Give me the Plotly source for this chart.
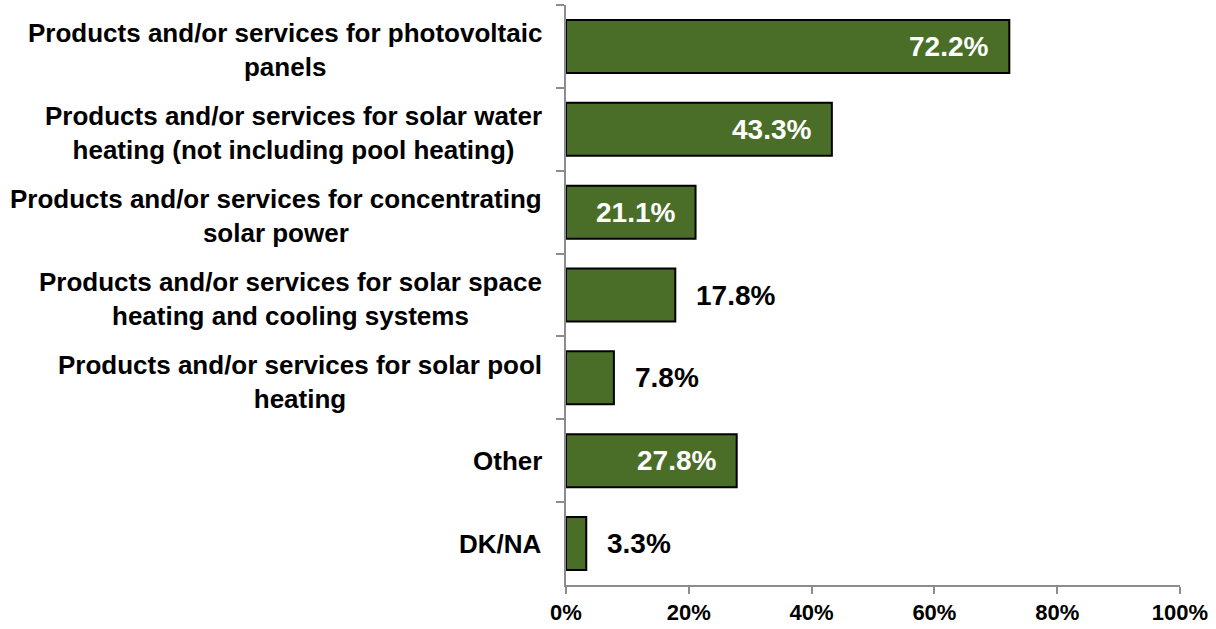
import plotly.graph_objects as go

categories = [
    "Products and/or services for photovoltaic panels",
    "Products and/or services for solar water heating (not including pool heating)",
    "Products and/or services for concentrating solar power",
    "Products and/or services for solar space heating and cooling systems",
    "Products and/or services for solar pool heating",
    "Other",
    "DK/NA",
]
category_labels = [
    "Products and/or services for photovoltaic<br>panels",
    "Products and/or services for solar water<br>heating (not including pool heating)",
    "Products and/or services for concentrating<br>solar power",
    "Products and/or services for solar space<br>heating and cooling systems",
    "Products and/or services for solar pool<br>heating",
    "Other",
    "DK/NA",
]
values = [0.722, 0.433, 0.211, 0.178, 0.078, 0.278, 0.033]
x_tickvals = [0, 0.2, 0.4, 0.6, 0.8, 1.0]
x_ticktext = ["0%", "20%", "40%", "60%", "80%", "100%"]

FONT = "Liberation Sans, Arial, sans-serif"
GREEN = "#4A6E27"
AXIS = "#8C8C8C"

fig = go.Figure()
fig.add_trace(go.Bar(
    x=values, y=categories, orientation="h",
    marker=dict(color=GREEN, line=dict(color="black", width=2)),
    width=0.64, hoverinfo="x+y",
))

annotations = []
for cat, lab in zip(categories, category_labels):
    multi = "<br>" in lab
    annotations.append(dict(
        x=0, xref="paper", y=cat, yref="y", text="<b>" + lab + "</b>",
        xanchor="right", yanchor="middle", align="center", xshift=-22,
        yshift=-4 if multi else 0,
        showarrow=False, font=dict(family=FONT, size=26, color="black"),
    ))
for cat, v in zip(categories, values):
    inside = v >= 0.2
    annotations.append(dict(
        x=v, xref="x", y=cat, yref="y", text="<b>%.1f%%</b>" % (v * 100),
        xanchor="right" if inside else "left", yanchor="middle",
        xshift=-19 if inside else 19, showarrow=False,
        font=dict(family=FONT, size=28, color="white" if inside else "black"),
    ))

fig.update_layout(
    width=1216, height=629,
    margin=dict(l=566, r=36, t=5, b=44),
    paper_bgcolor="white", plot_bgcolor="white",
    showlegend=False, annotations=annotations,
    xaxis=dict(
        range=[0, 1], tickvals=x_tickvals,
        ticktext=["<b>" + t + "</b>" for t in x_ticktext],
        showgrid=False, zeroline=False, showline=True, linecolor=AXIS, linewidth=2,
        ticks="outside", ticklen=7, tickcolor=AXIS, tickwidth=2,
        tickfont=dict(family=FONT, size=22, color="black"),
    ),
    yaxis=dict(
        autorange="reversed", showticklabels=False, showgrid=False, zeroline=False,
        showline=True, linecolor=AXIS, linewidth=2,
        ticks="outside", ticklen=8, tickcolor=AXIS, tickwidth=2, tickson="boundaries",
    ),
)

fig.write_html(
    "out.html",
    config={"displayModeBar": False},
    post_script="document.body.style.margin='0';document.body.style.overflow='hidden';",
)
